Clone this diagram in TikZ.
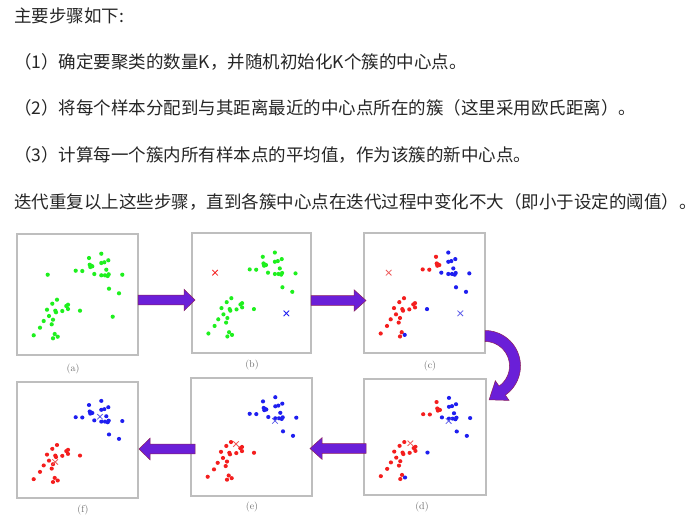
\documentclass[tikz,border=0pt]{standalone}
\usepackage{fontspec}
\newfontfamily\cjk{Noto Sans CJK SC}
\definecolor{txt}{HTML}{262626}
\definecolor{ptgreen}{HTML}{1EF01E}
\definecolor{ptred}{HTML}{F41E1E}
\definecolor{ptblue}{HTML}{1E1EF0}
\definecolor{xred}{HTML}{EE5A5A}
\definecolor{xblue}{HTML}{5A5AEA}
\definecolor{arrfill}{HTML}{6A1FD8}
\definecolor{arredge}{HTML}{8C1F5E}
\definecolor{frame}{HTML}{BEBEBE}
\definecolor{lbl}{HTML}{6E6E6E}
\tikzset{
  txtline/.style={anchor=west, font=\cjk\fontsize{17.5}{20}\selectfont, text=txt, inner sep=0pt},
  panelframe/.style={draw=frame, line width=1.3pt},
  blockarrow/.style={fill=arrfill, draw=arredge, line width=0.5pt, line join=miter},
  sublabel/.style={font=\fontsize{10}{11}\selectfont, text=lbl, inner sep=0pt},
  cross/.style={line width=0.8pt},
}
\def\UR{72/24,72.7/30.7,74/31.7,73.3/33,75.3/32.3,58.7/36.7,65.3/37}
\def\UB{84.3/19.7,91.3/26.3,84.3/29,87.3/28.3,89.3/35.7,77.3/40,84.3/41.3,88/41.3,91.7/40.3,90.7/42,105.3/40.7,92/54.7,102/59.3}
\def\LR{40/65.7,35.3/69.7,51/70.7,49.3/72,30/75.7,38.3/76.7,39/78.3,45.3/77,51/75,32/82,36/85.7,26.7/87,34.7/90.3,23/93.7,16.7/101.3,37.7/100,36/104.3}
\def\LB{63/76.7,40.7/102.7}
\def\SP{30.7/40.7,95.7/82.7}
\newcommand\ptset[2]{\foreach \px/\py in #2 {\fill[#1] (\px,\py) circle[radius=2.1];}}
\newcommand\xmk[3]{\draw[cross,#1,shift={(#2,#3)}] (-2.8,-2.8) -- (2.8,2.8) (-2.8,2.8) -- (2.8,-2.8);}
\newcommand\harrow[4]{\draw[blockarrow] (#1,{#3-4.8}) -- ({#2-#4},{#3-4.8}) -- ({#2-#4},{#3-10.8}) -- (#2,#3) -- ({#2-#4},{#3+10.8}) -- ({#2-#4},{#3+4.8}) -- (#1,{#3+4.8}) -- cycle;}
\begin{document}
\begin{tikzpicture}[x=1pt,y=-1pt]
\fill[white] (0,0) rectangle (696,520);
\useasboundingbox (0,0) rectangle (696,520);
% text
\node[txtline] (t0) at (14,16) {主要步骤如下:};
\node[txtline] (t1) at (14,62) {（1）确定要聚类的数量K，并随机初始化K个簇的中心点。};
\node[txtline] (t2) at (14,108) {（2）将每个样本分配到与其距离最近的中心点所在的簇（这里采用欧氏距离）。};
\node[txtline] (t3) at (14,155) {（3）计算每一个簇内所有样本点的平均值，作为该簇的新中心点。};
\node[txtline] (t4) at (14,202) {迭代重复以上这些步骤，直到各簇中心点在迭代过程中变化不大（即小于设定的阈值）。};
% panel a
\draw[panelframe] (17,234) rectangle (138,355);
\begin{scope}[shift={(17,234)}]
\ptset{ptgreen}{\UR}\ptset{ptgreen}{\UB}\ptset{ptgreen}{\LR}\ptset{ptgreen}{\LB}\ptset{ptgreen}{\SP}
\end{scope}
% panel b
\draw[panelframe] (192,233) rectangle (311,353);
\begin{scope}[shift={(192,233)},xscale=0.983,yscale=0.992]
\ptset{ptgreen}{\UR}\ptset{ptgreen}{\UB}\ptset{ptgreen}{\LR}\ptset{ptgreen}{\LB}
\xmk{ptred}{23.5}{40}\xmk{ptblue}{96}{81}
\end{scope}
% panel c
\draw[panelframe] (364,233) rectangle (485,353);
\begin{scope}[shift={(364,233)},yscale=0.992]
\ptset{ptred}{\UR}\ptset{ptblue}{\UB}\ptset{ptred}{\LR}\ptset{ptblue}{\LB}
\xmk{xred}{24.7}{40}\xmk{xblue}{96.3}{81}
\end{scope}
% panel d
\draw[panelframe] (364,379) rectangle (486,495);
\begin{scope}[shift={(364,379)},xscale=1.008,yscale=0.959]
\ptset{ptred}{\UR}\ptset{ptblue}{\UB}\ptset{ptred}{\LR}\ptset{ptblue}{\LB}
\xmk{xred}{46}{67}\xmk{xblue}{84}{43.8}
\end{scope}
% panel e
\draw[panelframe] (191,378) rectangle (312,496);
\begin{scope}[shift={(191,378)},yscale=0.975]
\ptset{ptblue}{\UR}\ptset{ptblue}{\UB}\ptset{ptred}{\LR}\ptset{ptred}{\LB}
\xmk{xred}{45}{67.7}\xmk{xblue}{84}{44}
\end{scope}
% panel f
\draw[panelframe] (17,382) rectangle (138,498);
\begin{scope}[shift={(17,382)},yscale=0.959]
\ptset{ptblue}{\UR}\ptset{ptblue}{\UB}\ptset{ptred}{\LR}\ptset{ptred}{\LB}
\xmk{xred}{38.2}{83.4}\xmk{xblue}{83}{36.2}
\end{scope}
% labels
\node[sublabel] (la) at (73,369) {(a)};
\node[sublabel] (lb) at (252,365) {(b)};
\node[sublabel] (lc) at (430,366) {(c)};
\node[sublabel] (ld) at (422,507) {(d)};
\node[sublabel] (le) at (252,507) {(e)};
\node[sublabel] (lf) at (83,510) {(f)};
% arrows
\harrow{138}{195}{300}{11}
\harrow{311}{366}{300.5}{12}
\harrow{366}{310}{448.5}{-12}
\harrow{195}{139}{449}{-11}
\draw[blockarrow] plot[domain=90:-55,samples=40] ({485+35.5*cos(\x)},{366-35.5*sin(\x)})
  -- (509.09,400.41) -- (489.1,399.8) -- (495.32,380.75)
  -- plot[domain=-55:90,samples=40] ({485+24.5*cos(\x)},{366-24.5*sin(\x)}) -- cycle;
\end{tikzpicture}
\end{document}
